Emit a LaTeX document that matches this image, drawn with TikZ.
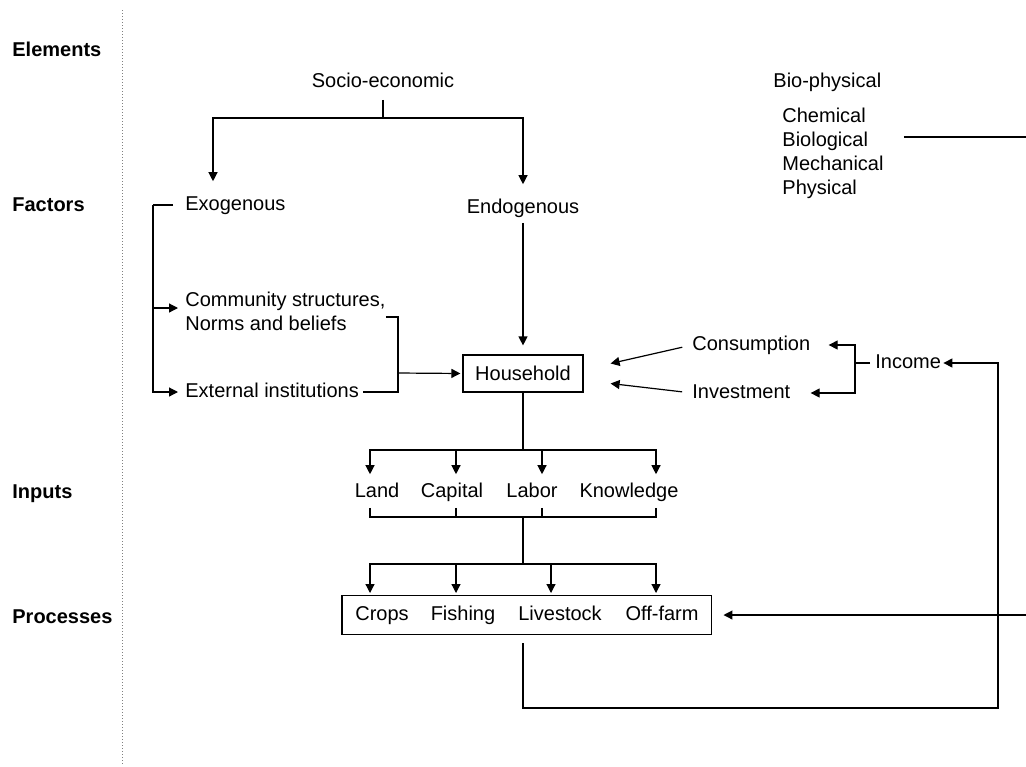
\documentclass[tikz,border=0pt]{standalone}
\usepackage{fontspec}
\setmainfont{Liberation Sans}
\usetikzlibrary{arrows.meta,fit}

\begin{document}
\begin{tikzpicture}[x=0.5pt,y=-0.5pt]
\tikzset{link/.style={line width=0.6pt},
  flow/.style={link, -{Triangle[length=4.5pt,width=4.5pt]}},
  txt/.style={inner sep=0pt, text height=7.3pt, text depth=2.1pt},
  level/.style={txt, anchor=west, font=\bfseries}}
\useasboundingbox (0,0) rectangle (1026,766);
% Levels
\draw[gray, densely dotted, line width=0.5pt] (122,10) -- (122,766);
\foreach \y/\t [count=\i] in {51/Elements,206/Factors,493/Inputs,618/Processes}
  \node[level] (lev\i) at (12,\y) {\t};
% Elements and factors
\node[txt] (socio) at (383,82) {Socio-economic};
\node[txt, anchor=west] (bio) at (773,82) {Bio-physical};
\node[inner sep=0pt, anchor=west, align=left] (kinds) at (782,153)
  {Chemical\\Biological\\Mechanical\\Physical};
\node[txt, anchor=west] (exo) at (185,205) {Exogenous};
\node[txt] (endo) at (523,208) {Endogenous};
\node[inner sep=0pt, anchor=west, align=left] (comm) at (185,311)
  {Community structures,\\Norms and beliefs};
\node[txt, anchor=west] (ext) at (185,392) {External institutions};
\node[draw, line width=0.6pt, minimum width=60pt, minimum height=18.5pt]
  (house) at (523,373.5) {Household};
\node[txt, anchor=west] (cons) at (692,345) {Consumption};
\node[txt, anchor=west] (inv) at (692,393) {Investment};
\node[txt, anchor=west] (inc) at (875,363) {Income};
% Inputs
\foreach \a/\x/\t [count=\i] in {370/377/Land,456/452/Capital,542/532/Labor,656/629/Knowledge} {
  \node[txt] (in\i) at (\x,492) {\t};
  \coordinate (col\i) at (\a,0);
}
% Processes
\foreach \a/\x/\t [count=\i] in {370/382/Crops,456/463/Fishing,551/560/Livestock,656/662/Off-farm} {
  \node[txt] (pr\i) at (\x,615) {\t};
  \coordinate (pcol\i) at (\a,0);
}
\node[draw, line width=0.6pt, fit=(pr1)(pr4), inner xsep=6.5pt, inner ysep=4.8pt] (procbox) {};
% Junctions
\coordinate (sj) at (383,118);
\coordinate (eb) at (153,205);
\coordinate (cb) at (398,373);
\coordinate (ib) at (855,363);
\coordinate (ij) at (523,450);
\coordinate (ob) at (523,517);
\coordinate (pj) at (523,564);
\coordinate (loop) at (998,708);
\coordinate (offin) at (1026,615);
\coordinate (bioout) at (1026,137);
% Socio-economic
\draw[link, shorten <=4pt] (socio) -- (sj);
\draw[flow, shorten >=7pt] (sj) -| ([xshift=14pt]exo.north west);
\draw[flow, shorten >=7pt] (sj) -| (endo.north);
\draw[link, shorten <=10pt] ([yshift=8pt]kinds.east) -- (bioout);
% Exogenous
\draw[link, shorten <=6pt] (exo.west) -- (eb);
\draw[flow, shorten >=3.5pt] (eb) |- ([yshift=1.5pt]comm.west);
\draw[flow, shorten >=3.5pt] (eb) |- (ext.west);
\draw[link] ([yshift=-3pt]comm.east) -| (cb);
\draw[link, shorten <=2pt] (ext.east) -| (cb);
\draw[flow, shorten >=1pt] (cb) -- (house.west);
\draw[flow, shorten <=2.5pt, shorten >=4.5pt] (endo) -- (house);
% Income
\draw[flow, shorten <=5pt] (cons.west) -- ([xshift=13.5pt,yshift=5pt]house.east);
\draw[flow, shorten <=5pt] (inv.west) -- ([xshift=13.5pt,yshift=-5pt]house.east);
\draw[link, shorten <=2.5pt] (inc.west) -- (ib);
\draw[flow, shorten >=9pt] (ib) |- (cons.east);
\draw[flow, shorten >=10pt] (ib) |- (inv.east);
% Household to inputs to processes
\draw[link] (house) -- (ij);
\foreach \i in {1,...,4} {
  \draw[flow, shorten >=4pt] (ij) -| (col\i |- in\i.north);
  \draw[link, shorten <=3pt] (col\i |- in\i.south) |- (ob);
  \draw[flow, shorten >=1pt] (pj) -| (pcol\i |- procbox.north);
}
\draw[link] (ob) -- (pj);
% Feedback loop
\draw[flow, shorten <=4pt, shorten >=1pt] (procbox.south -| house.south) |- (loop) |- (inc.east);
\draw[flow, shorten >=5.5pt] (offin) -- (procbox.east);
\end{tikzpicture}
\end{document}
